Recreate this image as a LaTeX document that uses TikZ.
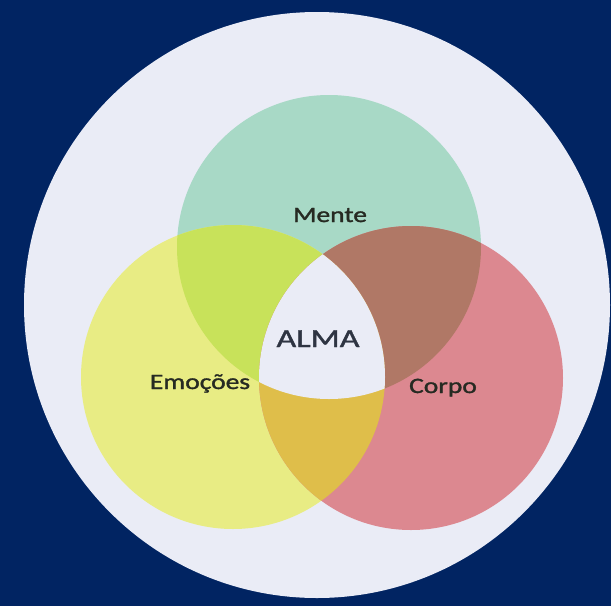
\documentclass[tikz,border=0pt]{standalone}
\usepackage{fontspec}
\setmainfont{Carlito}
\newfontfamily\lblfont[FakeBold=1.3]{Carlito}
\definecolor{navy}{HTML}{012462}
\definecolor{pale}{HTML}{EAECF6}
\definecolor{cgreen}{HTML}{A8D9C6}
\definecolor{cyellow}{HTML}{E8EC84}
\definecolor{cred}{HTML}{DC8890}
\definecolor{cyg}{HTML}{C8E25A}
\definecolor{cgr}{HTML}{B07866}
\definecolor{cyr}{HTML}{DFBE4A}
\definecolor{ink}{HTML}{262A22}
\definecolor{inkb}{HTML}{2E3442}
\begin{document}
\begin{tikzpicture}[x=1pt,y=-1pt,
  lbl/.style={font=\fontsize{22}{26}\lblfont, text=ink, inner sep=0pt, anchor=base, xscale=1.25}]
\fill[navy] (0,0) rectangle (611,606);
\useasboundingbox (0,0) rectangle (611,606);
\fill[pale] (317,305) circle[radius=293];
\def\rr{152}
\fill[cgreen] (329,247) circle[radius=\rr];
\fill[cyellow] (233,377) circle[radius=\rr];
\fill[cred] (411,378) circle[radius=\rr];
\begin{scope}
  \clip (329,247) circle[radius=\rr];
  \fill[cyg] (233,377) circle[radius=\rr];
  \fill[cgr] (411,378) circle[radius=\rr];
\end{scope}
\begin{scope}
  \clip (233,377) circle[radius=\rr];
  \fill[cyr] (411,378) circle[radius=\rr];
\end{scope}
\begin{scope}
  \clip (329,247) circle[radius=\rr];
  \clip (233,377) circle[radius=\rr];
  \fill[pale] (411,378) circle[radius=\rr];
\end{scope}
\node[lbl] (mente) at (330,222) {Mente};
\node[lbl, font=\fontsize{26}{29}\lblfont, text=inkb, xscale=1.05] (alma) at (318,347) {ALMA};
\node[lbl] (emo) at (200,389) {Emoções};
\node[lbl] (corpo) at (443,393) {Corpo};
\end{tikzpicture}
\end{document}
